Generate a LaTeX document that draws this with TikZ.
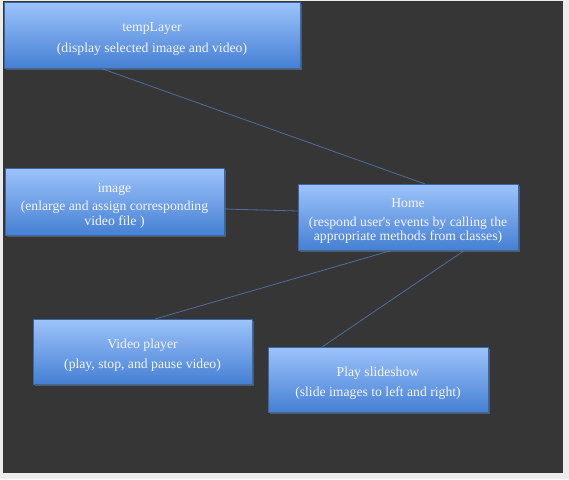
\documentclass[tikz,border=0pt]{standalone}
\usepackage{fontspec}
\setmainfont{Liberation Serif}
\usetikzlibrary{shadows}
\definecolor{bg}{HTML}{363636}
\definecolor{btop}{HTML}{9DC3FB}
\definecolor{bbot}{HTML}{4580D3}
\definecolor{link}{HTML}{4D6E9E}
\newcommand{\tup}{\rule{0pt}{17pt}}
\tikzset{
  box/.style={rectangle, top color=btop, bottom color=bbot, draw=bbot!80!black, line width=0.3pt,
    text=white!96!blue, align=center, font=\fontsize{13.7}{14.5}\selectfont, inner sep=0pt,
    drop shadow={shadow xshift=1.5pt, shadow yshift=-1.5pt, opacity=0.5}},
  link/.style={draw=link, line width=0.8pt}
}
\begin{document}
\begin{tikzpicture}[x=1pt,y=-1pt]
\useasboundingbox (0,0) rectangle (569,479);
\fill[white!85!gray] (0,0) rectangle (569,479);
\fill[bg] (3,1) rectangle (563,473);
\coordinate (t1) at (100,68);
\coordinate (h1) at (425,184);
\coordinate (i1) at (224,209);
\coordinate (h0) at (298,211);
\coordinate (h2) at (393,250);
\coordinate (v1) at (155,319);
\coordinate (h3) at (465,250);
\coordinate (s1) at (322,347);
\draw[link] (t1) -- (h1);
\draw[link] (i1) -- (h0);
\draw[link] (h2) -- (v1);
\draw[link] (h3) -- (s1);
\node[box, minimum width=296pt, minimum height=66pt] (temp) at (152,35) {\tup tempLayer\\[6pt](display selected image and video)};
\node[box, minimum width=219pt, minimum height=67pt] (image) at (114.5,201.5) {\tup image\\[4pt](enlarge and assign corresponding\\video file )};
\node[box, minimum width=220pt, minimum height=66pt] (home) at (408,217) {\tup Home\\[4pt](respond user\textquotesingle s events by calling the\\appropriate methods from classes)};
\node[box, minimum width=219pt, minimum height=65pt] (video) at (142.5,351.5) {\tup Video player\\[6pt](play, stop, and pause video)};
\node[box, minimum width=220pt, minimum height=65pt] (slide) at (378,379.5) {\tup Play slideshow\\[6pt](slide images to left and right)};
\end{tikzpicture}
\end{document}
